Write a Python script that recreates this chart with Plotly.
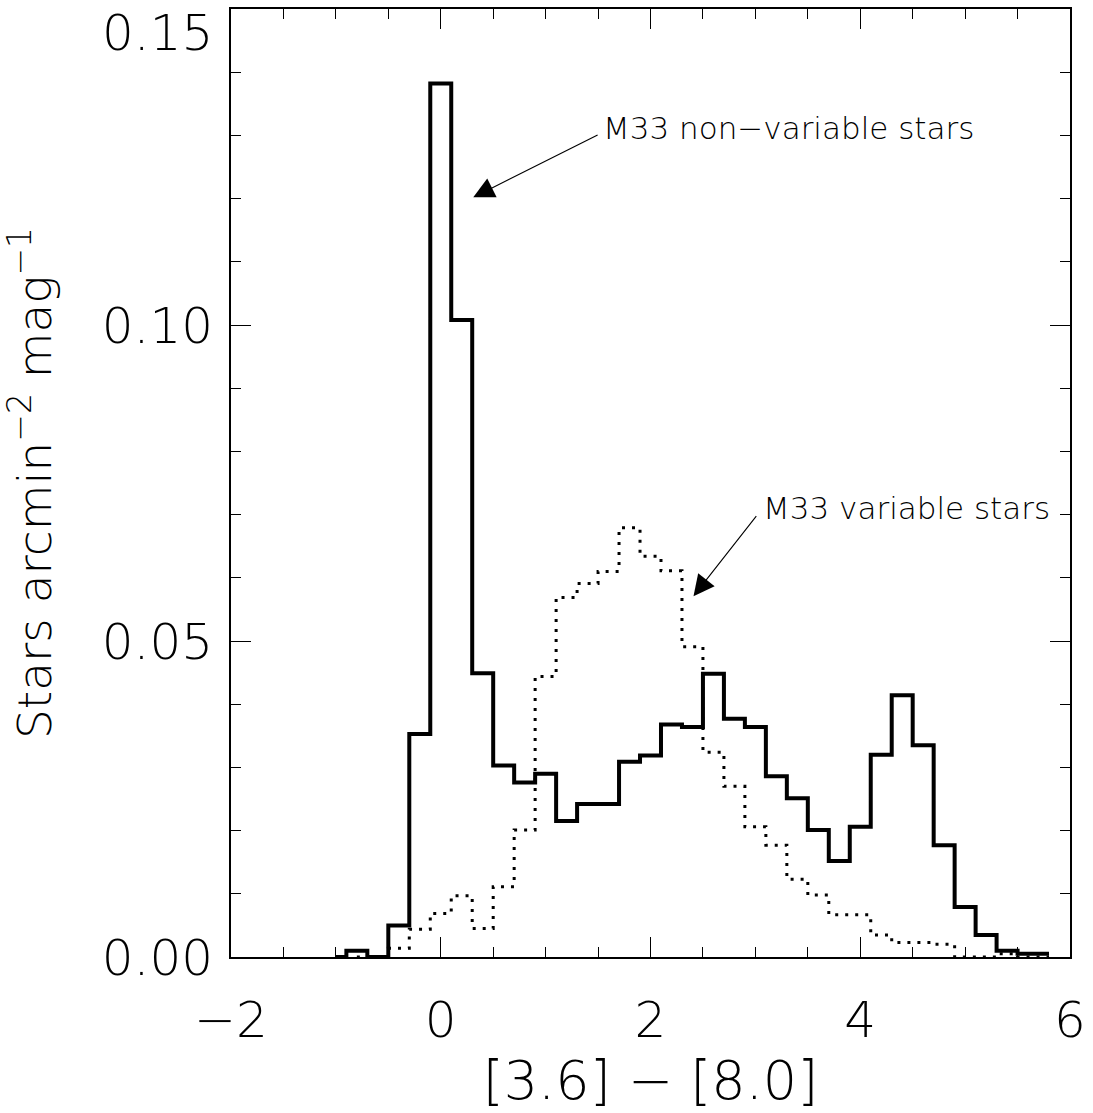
import plotly.graph_objects as go

# Bin centres ([3.6]-[8.0] colour)
nonvar_x = [-1.0, -0.8, -0.6, -0.4, -0.2, 0.0, 0.2, 0.4, 0.6, 0.8, 1.0, 1.2, 1.4, 1.6,
            1.8, 2.0, 2.2, 2.4, 2.6, 2.8, 3.0, 3.2, 3.4, 3.6, 3.8, 4.0, 4.2, 4.4,
            4.6, 4.8, 5.0, 5.2, 5.4, 5.6, 5.8]
nonvar_y = [0.0, 0.0010, 0.0, 0.0050, 0.0353, 0.1382, 0.1008, 0.0449, 0.0303, 0.0276,
            0.0290, 0.0215, 0.0242, 0.0242, 0.0309, 0.0319, 0.0368, 0.0364, 0.0448,
            0.0377, 0.0364, 0.0286, 0.0251, 0.0201, 0.0152, 0.0206, 0.0320, 0.0414,
            0.0335, 0.0177, 0.0079, 0.0035, 0.0010, 0.0005, 0.0005]

var_x = [-0.8, -0.6, -0.4, -0.2, 0.0, 0.2, 0.4, 0.6, 0.8, 1.0, 1.2, 1.4, 1.6,
         1.8, 2.0, 2.2, 2.4, 2.6, 2.8, 3.0, 3.2, 3.4, 3.6, 3.8, 4.0, 4.2, 4.4,
         4.6, 4.8, 5.0, 5.2, 5.4, 5.6, 5.8]
var_y = [0.0, 0.0, 0.0014, 0.0044, 0.0069, 0.0097, 0.0045, 0.0111, 0.0201, 0.0444,
         0.0569, 0.0591, 0.0610, 0.0679, 0.0634, 0.0611, 0.0491, 0.0324, 0.0270,
         0.0206, 0.0177, 0.0123, 0.0098, 0.0067, 0.0067, 0.0035, 0.0023, 0.0023,
         0.0020, 0.0, 0.0, 0.0005, 0.0, 0.0]

x_ticks = [-2, 0, 2, 4, 6]
y_ticks = [0.00, 0.05, 0.10]
y_ticklabels = ["0.00", "0.05", "0.10"]
y_top_value = 0.15
y_top_label = "0.15"

label_nonvar = "M33 non\u2212variable stars"
label_var = "M33 variable stars"

FONT = "DejaVu Sans"
TICKFONT = dict(size=50, family=FONT, weight=200, color="black")

fig = go.Figure()
fig.add_trace(go.Scatter(x=var_x, y=var_y, mode="lines", line_shape="hvh",
                         line=dict(color="black", width=3, dash="3px,7px"),
                         showlegend=False, hoverinfo="skip"))
fig.add_trace(go.Scatter(x=nonvar_x, y=nonvar_y, mode="lines", line_shape="hvh",
                         line=dict(color="black", width=4),
                         showlegend=False, hoverinfo="skip"))

# arrows
fig.add_annotation(x=0.31, y=0.1202, ax=1.51, ay=0.1302, xref="x", yref="y",
                   axref="x", ayref="y", text="", showarrow=True, arrowhead=2,
                   arrowsize=3.8, arrowwidth=1.1, arrowcolor="black", standoff=0)
fig.add_annotation(x=2.41, y=0.0571, ax=3.02, ay=0.0700, xref="x", yref="y",
                   axref="x", ayref="y", text="", showarrow=True, arrowhead=2,
                   arrowsize=3.8, arrowwidth=1.1, arrowcolor="black", standoff=0)
# labels
fig.add_annotation(x=1.53, y=0.1312, xref="x", yref="y", text=label_nonvar,
                   showarrow=False, xanchor="left", yanchor="middle",
                   font=dict(family=FONT, size=31, color="black", weight=200))
fig.add_annotation(x=3.05, y=0.0711, xref="x", yref="y", text=label_var,
                   showarrow=False, xanchor="left", yanchor="middle",
                   font=dict(family=FONT, size=31, color="black", weight=200))
# top y tick label (shifted down to fit inside the page, as in the original)
fig.add_annotation(x=0, y=y_top_value, xref="paper", yref="y", text=y_top_label,
                   showarrow=False, xanchor="right", yanchor="top", xshift=-16,
                   yshift=7, font=TICKFONT)

fig.update_layout(
    width=1093, height=1113,
    margin=dict(l=231, r=20, t=7, b=156),
    paper_bgcolor="white", plot_bgcolor="white",
    font=dict(family=FONT, color="black", weight=200),
)
fig.update_xaxes(
    range=[-2, 6], tickvals=x_ticks, ticks="inside", ticklen=20, tickwidth=1.3,
    tickcolor="black", showline=True, linecolor="black", linewidth=2, mirror="ticks",
    showgrid=False, zeroline=False, tickfont=TICKFONT,
    ticklabelstandoff=18,
    minor=dict(dtick=0.5, tick0=0, ticks="inside", ticklen=10, tickwidth=1.3,
               tickcolor="black", showgrid=False),
    title=dict(text="[3.6] \u2212 [8.0]", font=dict(size=54, family=FONT, weight=200),
               standoff=12),
)
fig.update_yaxes(
    range=[0, 0.15], tickvals=y_ticks, ticktext=y_ticklabels, ticks="inside",
    ticklen=20, tickwidth=1.3, tickcolor="black", showline=True, linecolor="black",
    linewidth=2, mirror="ticks", showgrid=False, zeroline=False,
    tickfont=TICKFONT, ticklabelstandoff=6,
    minor=dict(dtick=0.01, tick0=0, ticks="inside", ticklen=10, tickwidth=1.3,
               tickcolor="black", showgrid=False),
    title=dict(text="Stars arcmin<sup>\u22122</sup> mag<sup>\u22121</sup>",
               font=dict(size=47, family=FONT, weight=200), standoff=42),
)

fig.write_html("out.html")
